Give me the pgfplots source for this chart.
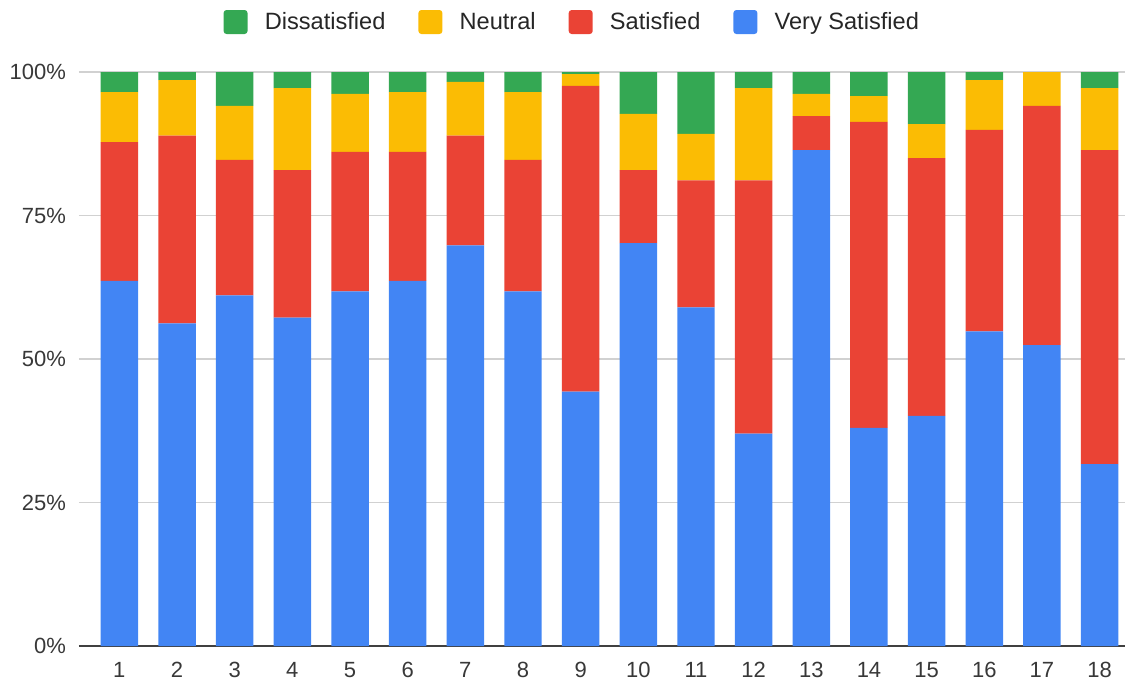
\documentclass[border=0pt]{standalone}
\usepackage{fontspec}
\setmainfont{Liberation Sans}
\usepackage{pgfplots}
\usepackage{pgfplotstable}
\pgfplotsset{compat=1.18}
\definecolor{cblue}{HTML}{4285F4}
\definecolor{cred}{HTML}{EA4335}
\definecolor{cyellow}{HTML}{FBBC04}
\definecolor{cgreen}{HTML}{34A853}
\pgfplotstableread{
x vs s n d
1 63.6 24.2 8.7 3.5
2 56.2 32.7 9.7 1.4
3 61.1 23.6 9.4 5.9
4 57.2 25.7 14.3 2.8
5 61.8 24.3 10.1 3.8
6 63.6 22.5 10.4 3.5
7 69.8 19.1 9.4 1.7
8 61.8 22.9 11.8 3.5
9 44.3 53.3 2.05 0.35
10 70.2 12.7 9.8 7.3
11 59.0 22.1 8.1 10.8
12 37.0 44.1 16.1 2.8
13 86.4 5.9 3.9 3.8
14 38.0 53.3 4.5 4.2
15 40.1 44.9 5.9 9.1
16 54.8 35.1 8.7 1.4
17 52.4 41.7 5.9 0
18 31.7 54.7 10.8 2.8
}\data
\begin{document}
\begin{tikzpicture}
\begin{axis}[
  scale only axis, width=523pt, height=287pt,
  ybar stacked, bar width=0.65,
  xmin=0.3, xmax=18.44, ymin=0, ymax=100,
  xtick={1,...,18}, ytick={0,25,50,75,100},
  yticklabel={\pgfmathprintnumber{\tick}\%},
  ymajorgrids, grid style={color=black!18, line width=0.8pt},
  axis x line*=bottom, axis y line*=left,
  y axis line style={draw=none},
  x axis line style={color=black!75, line width=1pt},
  major tick length=0pt,
  tick label style={font=\fontsize{11}{13}\selectfont, text=black!78},
  xticklabel style={yshift=-4.5pt},
  yticklabel style={xshift=-3pt},
  /pgf/number format/assume math mode=true,
  legend style={at={(0.4725,1.0871)}, anchor=center, draw=none, fill=none,
    legend columns=4, font=\fontsize{11.8}{13}\selectfont, text=black!85,
    /tikz/every odd column/.append style={column sep=6.6pt},
    /tikz/every even column/.append style={column sep=14.5pt}},
  reverse legend,
  legend image code/.code={\draw[#1, draw=none, rounded corners=1.5pt] (0pt,-6pt) rectangle (12pt,6pt);},
]
\addplot[fill=cblue, draw=none] table[x=x, y=vs] {\data};
\addplot[fill=cred, draw=none] table[x=x, y=s] {\data};
\addplot[fill=cyellow, draw=none] table[x=x, y=n] {\data};
\addplot[fill=cgreen, draw=none] table[x=x, y=d] {\data};
\legend{Very Satisfied, Satisfied, Neutral, Dissatisfied}
\end{axis}
\path[use as bounding box] (-39.5pt,-19pt) rectangle (525pt,323pt);
\end{tikzpicture}
\end{document}
